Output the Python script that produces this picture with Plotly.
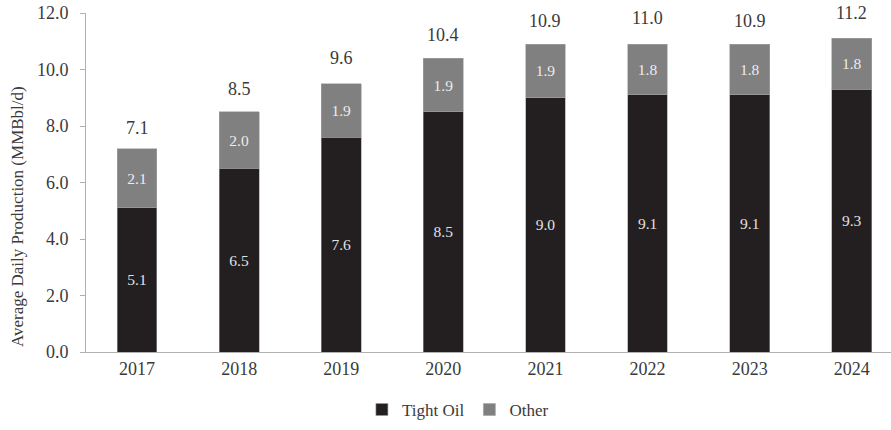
import plotly.graph_objects as go

years = ["2017", "2018", "2019", "2020", "2021", "2022", "2023", "2024"]
tight_oil = [5.1, 6.5, 7.6, 8.5, 9.0, 9.1, 9.1, 9.3]
other = [2.1, 2.0, 1.9, 1.9, 1.9, 1.8, 1.8, 1.8]
totals = [7.1, 8.5, 9.6, 10.4, 10.9, 11.0, 10.9, 11.2]
y_title = "Average Daily Production (MMBbl/d)"

FONT = "Liberation Serif"
TXT = "#3a3a3a"

fig = go.Figure()
fig.add_trace(go.Bar(
    x=years, y=tight_oil, name="Tight Oil",
    marker=dict(color="#231f20", line=dict(color="#9a9a9a", width=0.6)),
    text=[f"{v:.1f}" for v in tight_oil], textposition="inside",
    insidetextanchor="middle", textangle=0,
    textfont=dict(family=FONT, size=15.5, color="#e2e2e2"),
))
fig.add_trace(go.Bar(
    x=years, y=other, name="Other",
    marker=dict(color="#808080", line=dict(color="#a5a5a5", width=0.6)),
    text=[f"{v:.1f}" for v in other], textposition="inside",
    insidetextanchor="middle", textangle=0,
    textfont=dict(family=FONT, size=15.5, color="#ececec"),
))

for i, t in enumerate(totals):
    fig.add_annotation(x=i, y=t, xref="x", yref="y", text=f"{t:.1f}", showarrow=False,
                       yshift=23, font=dict(family=FONT, size=18, color=TXT))

fig.add_annotation(x=-0.0857, y=0.398, xref="paper", yref="paper", text=y_title,
                   textangle=-90, showarrow=False, xanchor="center", yanchor="middle",
                   font=dict(family=FONT, size=17, color=TXT))

fig.update_layout(
    width=891, height=430,
    margin=dict(l=86, r=0, t=13, b=78, autoexpand=False),
    barmode="stack", bargap=0.61,
    plot_bgcolor="white", paper_bgcolor="white",
    font=dict(family=FONT, size=17, color=TXT),
    legend=dict(orientation="h", x=0.462, xanchor="center", y=-0.171, yanchor="middle",
                font=dict(family=FONT, size=17, color=TXT), itemwidth=30,
                traceorder="normal"),
    showlegend=True,
)
fig.update_xaxes(type="category", range=[-0.5, 7.384], showline=True, linecolor="#b0b0b0",
                 linewidth=1, ticks="", showgrid=False, automargin=False,
                 tickfont=dict(family=FONT, size=18, color=TXT))
fig.update_yaxes(range=[0, 12], dtick=2, tickformat=".1f", showline=True, linecolor="#b0b0b0",
                 linewidth=1, ticks="outside", ticklen=5, tickcolor="#b0b0b0",
                 showgrid=False, zeroline=False, automargin=False,
                 ticklabelstandoff=8,
                 tickfont=dict(family=FONT, size=18, color=TXT))

fig.write_html("out.html", config={"displayModeBar": False},
               post_script="document.body.style.margin='0px';")
